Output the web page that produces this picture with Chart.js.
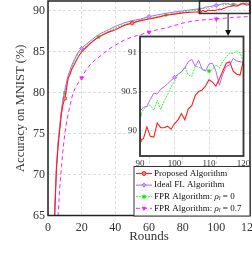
<!DOCTYPE html>
<html><head><meta charset="utf-8">
<script src="https://cdn.jsdelivr.net/npm/chart.js@4"></script>
<style>
html,body{margin:0;padding:0;background:#fff;overflow:hidden}
#wrap{position:relative;width:252px;height:253px}
#main{position:absolute;left:0;top:0}
#inset{position:absolute;left:116px;top:30px}
</style></head><body>
<div id="wrap"><canvas id="main" width="252" height="253"></canvas><canvas id="inset" width="134" height="140"></canvas></div>
<script>
// ---------------- data ----------------
const rounds = [3,4,5,6,7,8,9,10,11,12,13,14,16,18,20,22,25,28,30,33,36,40,45,50,55,60,65,70,75,80,85,88,
  90,91,92,93,94,95,96,97,98,99,100,101,102,103,104,105,106,107,108,109,110,111,112,113,114,115,116,117,118,119,120];
const proposed = [55,65,70.5,73.5,75.5,77.5,78.6,79.3,80.5,81.8,82.2,82.8,83.6,84.4,85.0,85.4,86.0,86.5,86.8,87.1,87.4,87.7,88.2,88.5,88.8,89.0,89.2,89.45,89.6,89.75,89.82,89.86,
  89.88,89.90,90.05,89.93,89.92,90.10,90.04,90.04,90.06,90.02,90.09,90.14,90.22,90.14,90.28,90.32,90.45,90.50,90.52,90.57,90.65,90.62,90.57,90.66,90.76,90.86,90.88,90.76,90.72,90.71,90.90];
const idealFL = [56,66,71,74,76,78,79.3,80.3,81.3,82.1,82.7,83.3,84.2,85.0,85.4,85.8,86.3,86.8,87.1,87.4,87.7,88.1,88.5,88.8,89.0,89.3,89.5,89.7,89.85,90.0,90.12,90.2,
  90.25,90.30,90.31,90.40,90.48,90.47,90.53,90.56,90.60,90.64,90.68,90.72,90.75,90.80,90.88,90.91,90.82,90.90,90.78,90.76,90.85,90.86,90.76,90.58,90.72,90.82,90.84,90.92,90.89,90.88,90.87];
const fprRho0 = [55.5,65.5,70.8,73.8,75.8,77.8,79.0,80.0,81.0,81.9,82.5,83.1,84.0,84.8,85.2,85.6,86.1,86.5,86.8,87.2,87.5,87.9,88.3,88.6,88.9,89.1,89.3,89.5,89.7,89.85,90.0,90.1,
  90.20,90.27,90.31,90.33,90.26,90.39,90.27,90.38,90.46,90.56,90.63,90.71,90.75,90.81,90.71,90.69,90.82,90.81,90.79,90.77,90.76,90.78,90.84,90.80,90.88,90.94,90.99,90.98,91.02,90.99,90.88];
const roundsRho07 = [3,5,6,7,8,9,10,11,12,13,14,15,16,18,20,22,25,28,30,33,36,40,45,50,55,60,65,70,75,80,85,90,95,100,105,110,115,120];
const fprRho07 = [35,55,65,68.5,71,73.2,75,76.3,77.4,78.4,79.3,80.0,80.5,81.2,81.8,82.6,83.4,84.0,84.3,84.8,85.3,85.8,86.4,86.8,87.1,87.4,87.7,87.9,88.2,88.5,88.7,88.85,88.95,89.0,89.1,89.2,89.25,89.3];
const proposedMarks = [10,50,90];
const idealMarks = [20,60,100];
const rho0Marks = [10,30,50,70,90,110];
const rho07Marks = [20,60,100];
const seriesLabels = ['Proposed Algorithm','Ideal FL Algorithm','FPR Algorithm: ρ_l = 0','FPR Algorithm: ρ_l = 0.7'];
const xTicks = [0,20,40,60,80,100,120];
const yTicks = [65,70,75,80,85,90];
const insetXTicks = [90,100,110,120];
const insetYTicks = [90,90.5,91];
const zoomBox = {x0:90, x1:120, y0:89.68, y1:91.2};

// ---------------- helpers ----------------
const FONT = "'Liberation Serif', 'DejaVu Serif', serif";
const pts = (xs, ys) => xs.map((x,i)=>({x, y:ys[i]}));
const mark = (list, r) => ctx => (ctx.raw && list.includes(ctx.raw.x)) ? r : 0;
const COL = {red:'#ff1a1a', purple:'#b266ff', green:'#3cf03c', pink:'#ff1aff'};
function makeSets(withPink, r){
  const s = [
    {label:seriesLabels[0], data:pts(rounds,proposed), borderColor:COL.red, backgroundColor:COL.red, borderWidth:1.1,
     pointStyle:'circle', pointRadius:mark(proposedMarks,r), pointBorderWidth:0.8, pointBackgroundColor:'#ff8080', pointBorderColor:COL.red},
    {label:seriesLabels[1], data:pts(rounds,idealFL), borderColor:COL.purple, backgroundColor:COL.purple, borderWidth:1,
     pointStyle:'rectRot', pointRadius:mark(idealMarks,r+0.4), pointBorderWidth:0.8, pointBackgroundColor:'#cc99ff', pointBorderColor:COL.purple},
    {label:seriesLabels[2], data:pts(rounds,fprRho0), borderColor:COL.green, backgroundColor:COL.green, borderWidth:1, borderDash:[2,1],
     pointStyle:'rect', pointRadius:mark(rho0Marks,r), pointBorderWidth:0.8, pointBackgroundColor:'#22cc22', pointBorderColor:COL.green},
  ];
  if (withPink) s.push({label:seriesLabels[3], data:pts(roundsRho07,fprRho07), borderColor:COL.pink, backgroundColor:COL.pink, borderWidth:1, borderDash:[4,3],
     pointStyle:'triangle', pointRotation:180, pointRadius:mark(rho07Marks,r+0.4), pointBorderWidth:0.8, pointBackgroundColor:COL.pink, pointBorderColor:COL.pink});
  return s.map(d=>Object.assign(d,{tension:0, fill:false, pointHoverRadius:0}));
}
function drawLabel(ctx, text, x, y, size){
  const parts = text.split(/_(\w)/);
  let cx = x;
  parts.forEach((p,i)=>{
    if (i%2===1){
      ctx.font = `italic ${size*0.7}px ${FONT}`;
      ctx.fillText(p, cx, y+size*0.22); cx += ctx.measureText(p).width;
    } else {
      const idx = p.indexOf('ρ');
      if (idx>=0){
        const a = p.slice(0,idx), b = p.slice(idx+1);
        ctx.font = `${size}px ${FONT}`; ctx.fillText(a,cx,y); cx += ctx.measureText(a).width;
        ctx.font = `italic ${size}px ${FONT}`; ctx.fillText('ρ',cx,y); cx += ctx.measureText('ρ').width;
        ctx.font = `${size}px ${FONT}`; ctx.fillText(b,cx,y); cx += ctx.measureText(b).width;
      } else {
        ctx.font = `${size}px ${FONT}`; ctx.fillText(p,cx,y); cx += ctx.measureText(p).width;
      }
    }
  });
}
const gridOpts = {color:'#d4d4d4', lineWidth:0.8, drawTicks:false};

// ---------------- main chart ----------------
const mainDecor = {
  id:'mainDecor',
  afterDatasetsDraw(chart){
    const {ctx, chartArea:a, scales:{x,y}} = chart;
    ctx.save();
    ctx.strokeStyle = '#333'; ctx.lineWidth = 1.5;
    const rx0 = x.getPixelForValue(zoomBox.x0), rx1 = x.getPixelForValue(zoomBox.x1);
    const ry0 = y.getPixelForValue(zoomBox.y1), ry1 = y.getPixelForValue(zoomBox.y0);
    ctx.strokeRect(rx0, ry0, rx1-rx0, ry1-ry0);
    const ax = x.getPixelForValue(107);
    ctx.lineWidth = 1.2; ctx.beginPath(); ctx.moveTo(ax, ry1); ctx.lineTo(ax, 31); ctx.stroke();
    ctx.fillStyle = '#111'; ctx.beginPath(); ctx.moveTo(ax-3, 30); ctx.lineTo(ax+3, 30); ctx.lineTo(ax, 36); ctx.closePath(); ctx.fill();
    ctx.strokeStyle = '#222'; ctx.lineWidth = 1.5;
    ctx.strokeRect(a.left, a.top, a.right-a.left, a.bottom-a.top);
    const lx = a.left+86, ly = a.bottom-49, lw = a.right-lx, lh = 49.5;
    ctx.fillStyle = '#fff'; ctx.fillRect(lx, ly, lw, lh);
    ctx.strokeStyle = '#333'; ctx.lineWidth = 1; ctx.strokeRect(lx, ly, lw, lh);
    chart.data.datasets.forEach((ds,i)=>{
      const cy = ly + 7 + i*11.6;
      ctx.strokeStyle = ds.borderColor; ctx.lineWidth = 1; ctx.setLineDash(ds.borderDash||[]);
      ctx.beginPath(); ctx.moveTo(lx+2, cy); ctx.lineTo(lx+18, cy); ctx.stroke(); ctx.setLineDash([]);
      ctx.fillStyle = ds.pointBackgroundColor; ctx.strokeStyle = ds.pointBorderColor;
      Chart.helpers.drawPoint(ctx, {pointStyle:ds.pointStyle, rotation:ds.pointRotation||0, radius:2, borderWidth:0.8}, lx+10, cy);
      ctx.fillStyle = '#111'; ctx.textBaseline = 'middle';
      drawLabel(ctx, ds.label, lx+20, cy, 9);
    });
    ctx.restore();
  }
};
new Chart(document.getElementById('main'), {
  type:'line',
  data:{datasets:makeSets(true,1.8)},
  options:{
    responsive:false, animation:false, devicePixelRatio:1,
    layout:{padding:{top:1, right:2, left:0, bottom:0}},
    plugins:{legend:{display:false}, tooltip:{enabled:false}},
    scales:{
      x:{type:'linear', min:0, max:120, grid:gridOpts, border:{display:false, dash:[3,2]},
         afterBuildTicks:s=>{s.ticks = xTicks.map(v=>({value:v}));},
         afterFit:s=>{s.height = 37.5; s.paddingLeft = 0; s.paddingRight = 0;},
         ticks:{padding:5, color:'#333', font:{family:FONT, size:12}, maxRotation:0, autoSkip:false},
         title:{display:true, text:'Rounds', color:'#333', font:{family:FONT, size:13}, padding:{top:0,bottom:8.5}}},
      y:{type:'linear', min:65, max:91.2, grid:gridOpts, border:{display:false, dash:[3,2]},
         afterBuildTicks:s=>{s.ticks = yTicks.map(v=>({value:v}));},
         afterFit:s=>{s.width = 48; s.paddingTop = 0; s.paddingBottom = 0;},
         ticks:{padding:3, color:'#333', font:{family:FONT, size:12}},
         title:{display:true, text:'Accuracy on MNIST (%)', color:'#333', font:{family:FONT, size:12.5}, padding:{top:13,bottom:0}}}
    }
  },
  plugins:[mainDecor]
});

// ---------------- inset chart ----------------
const insetDecor = {
  id:'insetDecor',
  beforeDraw(chart){
    const {ctx, chartArea:a} = chart;
    ctx.save(); ctx.fillStyle = '#fff'; ctx.fillRect(a.left, a.top, a.right-a.left, a.bottom-a.top); ctx.restore();
  },
  afterDatasetsDraw(chart){
    const {ctx, chartArea:a} = chart;
    ctx.save(); ctx.strokeStyle = '#333'; ctx.lineWidth = 1.8;
    ctx.strokeRect(a.left, a.top, a.right-a.left, a.bottom-a.top); ctx.restore();
  }
};
new Chart(document.getElementById('inset'), {
  type:'line',
  data:{datasets:makeSets(false,1.8)},
  options:{
    responsive:false, animation:false, devicePixelRatio:1,
    layout:{padding:{top:6.5, right:6.5, left:0, bottom:0}},
    plugins:{legend:{display:false}, tooltip:{enabled:false}},
    scales:{
      x:{type:'linear', min:90, max:120, grid:gridOpts, border:{display:false, dash:[3,2]},
         afterBuildTicks:s=>{s.ticks = insetXTicks.map(v=>({value:v}));},
         afterFit:s=>{s.height = 14; s.paddingLeft = 0; s.paddingRight = 0;},
         ticks:{padding:2, color:'#333', font:{family:FONT, size:9}, maxRotation:0, autoSkip:false}},
      y:{type:'linear', min:89.68, max:91.2, grid:gridOpts, border:{display:false, dash:[3,2]},
         afterBuildTicks:s=>{s.ticks = insetYTicks.map(v=>({value:v}));},
         afterFit:s=>{s.width = 24; s.paddingTop = 0; s.paddingBottom = 0;},
         ticks:{padding:3, color:'#333', font:{family:FONT, size:9}, callback:v=>String(v)}}
    }
  },
  plugins:[insetDecor]
});
</script>
</body></html>
